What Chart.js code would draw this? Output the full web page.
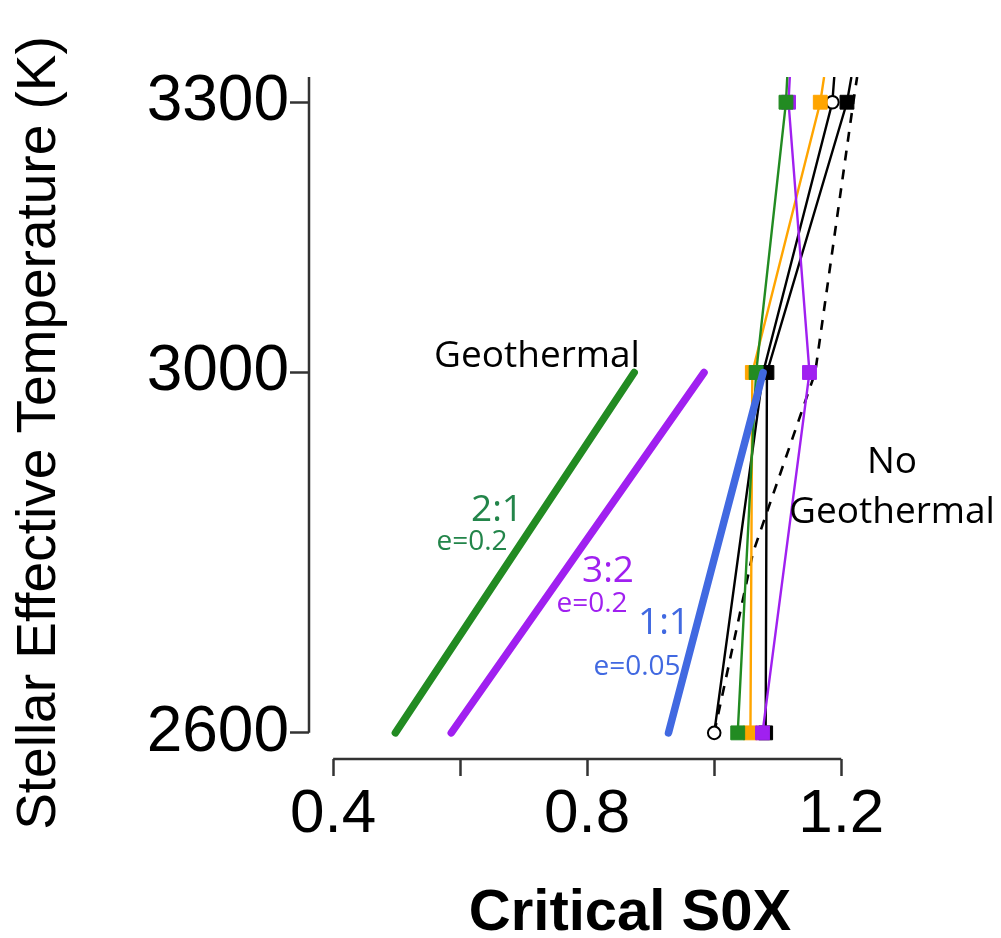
<!DOCTYPE html>
<html lang="en">
<head>
<meta charset="UTF-8">
<title>Critical S0X vs Stellar Effective Temperature</title>
<script src="https://cdn.jsdelivr.net/npm/chart.js"></script>
<style>
  html, body { margin: 0; padding: 0; background: #fff; }
  canvas { display: block; }
</style>
</head>
<body>
<canvas id="s0xChart" width="1001" height="938"></canvas>
<script>
  // axis ticks
  const xTicks = [0.4, 0.6, 0.8, 1.0, 1.2];
  const xTickLabels = ['0.4', '', '0.8', '', '1.2'];
  const yTicks = [2600, 3000, 3300];
  const yTickLabels = ['2600', '3000', '3300'];

  // no geothermal: thin lines, markers at the three temperatures,
  // last value is where each line leaves the top of the frame
  const tempsNoGeo = [2600, 3000, 3300, 3328];
  const s0xGreen = [1.037, 1.066, 1.113, 1.115];
  const s0xOrange = [1.057, 1.060, 1.167, 1.173];
  const s0xPurple = [1.076, 1.150, 1.117, 1.119];
  const s0xBlackSq = [1.081, 1.083, 1.209, 1.216];
  const s0xBlackCirc = [1.000, 1.077, 1.186, 1.189];

  // dashed reference curve
  const tempsDashed = [2600, 2800, 3000, 3300, 3328];
  const s0xDashed = [1.000, 1.061, 1.159, 1.219, 1.225];

  // geothermal: thick lines
  const tempsGeo = [2600, 3000];
  const s0xGeo21 = [0.498, 0.874];
  const s0xGeo32 = [0.586, 0.984];
  const s0xGeo11 = [0.928, 1.077];

  const GREEN = '#228B22', PURPLE = '#A020F0', ORANGE = '#FFA500', BLUE = '#4169E1', BLACK = '#000000';
  const AXIS = '#333333';
  const HELV = '"Liberation Sans", Arial, sans-serif';
  const SANS = '"Open Sans", "Noto Sans", sans-serif';

  const pts = (temps, vals) => temps.map((t, i) => ({ x: vals[i], y: t }));

  function thinLine(vals, color, style) {
    const circle = style === 'circle';
    return {
      data: pts(tempsNoGeo, vals),
      borderColor: color,
      borderWidth: 2.4,
      pointStyle: circle ? 'circle' : 'rect',
      pointRadius: vals.map((v, i) => i < 3 ? (circle ? 6.3 : 9.8) : 0),
      pointBackgroundColor: circle ? '#ffffff' : color,
      pointBorderColor: color,
      pointBorderWidth: circle ? 2 : 1
    };
  }

  function thickLine(vals, color) {
    return {
      data: pts(tempsGeo, vals),
      borderColor: color,
      borderWidth: 7.5,
      borderCapStyle: 'round',
      pointRadius: 0
    };
  }

  // listed bottom to top
  const datasets = [
    {
      data: pts(tempsDashed, s0xDashed),
      borderColor: BLACK, borderWidth: 2.6, borderDash: [10, 9], pointRadius: 0
    },
    thinLine(s0xBlackCirc, BLACK, 'circle'),
    thinLine(s0xBlackSq, BLACK, 'rect'),
    thinLine(s0xOrange, ORANGE, 'rect'),
    thinLine(s0xPurple, PURPLE, 'rect'),
    thinLine(s0xGreen, GREEN, 'rect'),
    thickLine(s0xGeo21, GREEN),
    thickLine(s0xGeo32, PURPLE),
    thickLine(s0xGeo11, BLUE)
  ].map((d, i) => Object.assign({ showLine: true, fill: false, tension: 0, order: -i }, d));

  // text placed on the plot: [text, x, baseline y, size, color]
  const notes = [
    ['Geothermal', 537, 367, 37, BLACK],
    ['No', 892, 473, 37, BLACK],
    ['Geothermal', 892, 523, 37, BLACK],
    ['2:1', 497, 521, 37, '#23854a'],
    ['e=0.2', 472, 550, 28, '#23854a'],
    ['3:2', 608, 582, 37, PURPLE],
    ['e=0.2', 592, 612, 28, PURPLE],
    ['1:1', 664, 634, 37, BLUE],
    ['e=0.05', 637, 675, 28, BLUE]
  ];

  const frame = {
    id: 'frame',
    beforeDatasetsDraw(chart) {
      const { ctx, chartArea, scales: { x, y } } = chart;
      ctx.save();
      ctx.strokeStyle = AXIS;
      ctx.lineWidth = 2.5;
      ctx.beginPath();
      ctx.moveTo(chartArea.left, y.getPixelForValue(yTicks[0]));
      ctx.lineTo(chartArea.left, chartArea.top);
      ctx.moveTo(x.getPixelForValue(xTicks[0]), chartArea.bottom);
      ctx.lineTo(x.getPixelForValue(xTicks[xTicks.length - 1]), chartArea.bottom);
      ctx.stroke();
      ctx.restore();
    },
    afterDraw(chart) {
      const { ctx } = chart;
      ctx.save();
      ctx.fillStyle = BLACK;
      ctx.textAlign = 'center';
      ctx.textBaseline = 'middle';
      ctx.font = 'bold 58px ' + HELV;
      ctx.fillText('Critical S0X', 630, 914);
      ctx.translate(40, 433);
      ctx.rotate(-Math.PI / 2);
      ctx.font = '55px ' + HELV;
      ctx.fillText('Stellar Effective Temperature (K)', 0, 0);
      ctx.restore();

      ctx.save();
      ctx.textAlign = 'center';
      ctx.textBaseline = 'alphabetic';
      notes.forEach(([t, px, py, size, color]) => {
        ctx.font = size + 'px ' + SANS;
        ctx.fillStyle = color;
        ctx.fillText(t, px, py);
      });
      ctx.restore();
    }
  };

  new Chart(document.getElementById('s0xChart'), {
    type: 'scatter',
    data: { datasets },
    options: {
      responsive: false,
      animation: false,
      devicePixelRatio: 1,
      layout: { padding: { left: 0, top: 77, right: 128, bottom: 0 } },
      plugins: { legend: { display: false }, tooltip: { enabled: false } },
      scales: {
        x: {
          type: 'linear', min: 0.362, max: 1.25,
          afterBuildTicks: s => { s.ticks = xTicks.map(v => ({ value: v })); },
          afterFit: s => { s.height = 179; },
          border: { display: false },
          grid: { drawOnChartArea: false, tickLength: 17, tickWidth: 2.5, tickColor: AXIS },
          ticks: {
            autoSkip: false, maxRotation: 0, padding: 2, color: BLACK,
            font: { family: HELV, size: 62 },
            callback: (v, i) => xTickLabels[i]
          }
        },
        y: {
          type: 'linear', min: 2571, max: 3328,
          afterBuildTicks: s => { s.ticks = yTicks.map(v => ({ value: v })); },
          afterFit: s => { s.width = 309; },
          border: { display: false },
          grid: { drawOnChartArea: false, tickLength: 19, tickWidth: 2.5, tickColor: AXIS },
          ticks: {
            autoSkip: false, padding: 1, color: BLACK,
            font: { family: HELV, size: 64 },
            callback: (v, i) => yTickLabels[i]
          }
        }
      }
    },
    plugins: [frame]
  });
</script>
</body>
</html>
